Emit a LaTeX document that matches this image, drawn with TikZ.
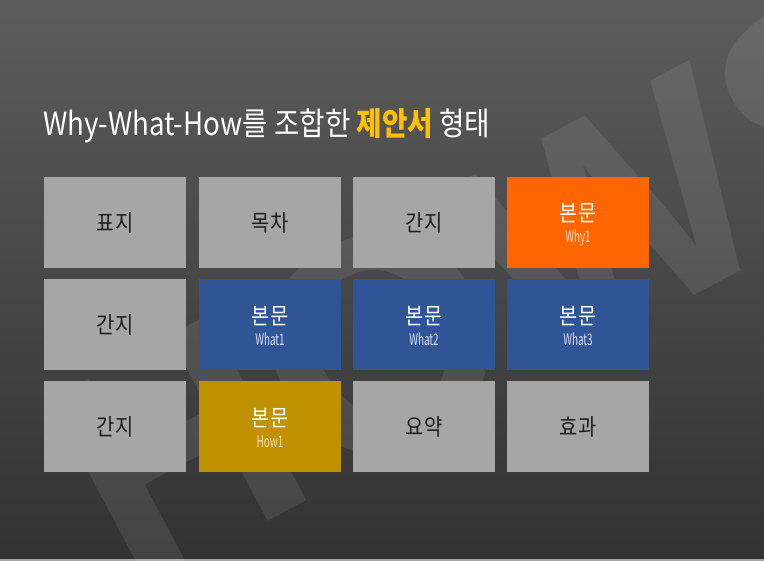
\documentclass[tikz,border=0pt]{standalone}
\usepackage{fontspec}
\usepackage{graphicx}
\setmainfont{Noto Sans CJK KR}
\newfontfamily\wmfont{Liberation Sans}
\newcommand\mysub[2]{{\fontsize{16}{16}\selectfont\color{#1}\scalebox{0.62}[1]{#2}}}
\newcommand\mykor[1]{\scalebox{0.86}[1]{#1}}
\definecolor{bgtop}{HTML}{5C5C5C}
\definecolor{bgbot}{HTML}{323232}
\definecolor{boxgray}{HTML}{A6A6A6}
\definecolor{boxorange}{HTML}{FF6600}
\definecolor{boxblue}{HTML}{2F5597}
\definecolor{boxgold}{HTML}{C09100}
\definecolor{titleyellow}{HTML}{FFC000}
\definecolor{graytext}{HTML}{1E1E1E}
\tikzset{
  cell/.style={minimum width=142pt, minimum height=91pt, inner sep=0pt, anchor=center},
  graycell/.style={cell, fill=boxgray, text=graytext, font=\fontsize{23}{23}\selectfont},
  colcell/.style={cell},
  coltext/.style={inner sep=0pt, text=white, align=center, font=\fontsize{23}{25}\selectfont},
}
\begin{document}
\begin{tikzpicture}[x=1pt,y=-1pt]
\useasboundingbox (0,0) rectangle (764,561);
\shade[top color=bgtop, bottom color=bgbot] (0,0) rectangle (764,561);
\fill[gray!70] (0,558.5) rectangle (764,561);
% watermark
\node[rotate=28, anchor=base west, inner sep=0pt, text=white, opacity=0.085,
      font=\wmfont\bfseries\fontsize{305}{305}\selectfont] (wm) at (130,595) {HOWS};
% title
\node[anchor=base west, inner sep=0pt, text=white, font=\fontsize{32}{32}\selectfont] (title) at (43,136)
  {\scalebox{0.865}[1]{Why-What-How를 조합한 {\bfseries\color{titleyellow}제안서} 형태}};
% row 1
\node[graycell] (c11) at (115,222.5) {\mykor{표지}};
\node[graycell] (c12) at (270,222.5) {\mykor{목차}};
\node[graycell] (c13) at (424,222.5) {\mykor{간지}};
\node[colcell, fill=boxorange] (c14) at (578,222.5) {};
\node[coltext] (t14) at ([yshift=-2pt]c14.center) {\mykor{본문}\\[-4pt]\mysub{white!80!orange}{Why1}};
% row 2
\node[graycell] (c21) at (115,324.5) {\mykor{간지}};
\node[colcell, fill=boxblue] (c22) at (270,324.5) {};
\node[coltext] (t22) at ([yshift=-2pt]c22.center) {\mykor{본문}\\[-4pt]\mysub{white!88!blue}{What1}};
\node[colcell, fill=boxblue] (c23) at (424,324.5) {};
\node[coltext] (t23) at ([yshift=-2pt]c23.center) {\mykor{본문}\\[-4pt]\mysub{white!88!blue}{What2}};
\node[colcell, fill=boxblue] (c24) at (578,324.5) {};
\node[coltext] (t24) at ([yshift=-2pt]c24.center) {\mykor{본문}\\[-4pt]\mysub{white!88!blue}{What3}};
% row 3
\node[graycell] (c31) at (115,426.5) {\mykor{간지}};
\node[colcell, fill=boxgold] (c32) at (270,426.5) {};
\node[coltext] (t32) at ([yshift=-2pt]c32.center) {\mykor{본문}\\[-4pt]\mysub{white!75!orange}{How1}};
\node[graycell] (c33) at (424,426.5) {\mykor{요약}};
\node[graycell] (c34) at (578,426.5) {\mykor{효과}};
\end{tikzpicture}
\end{document}
